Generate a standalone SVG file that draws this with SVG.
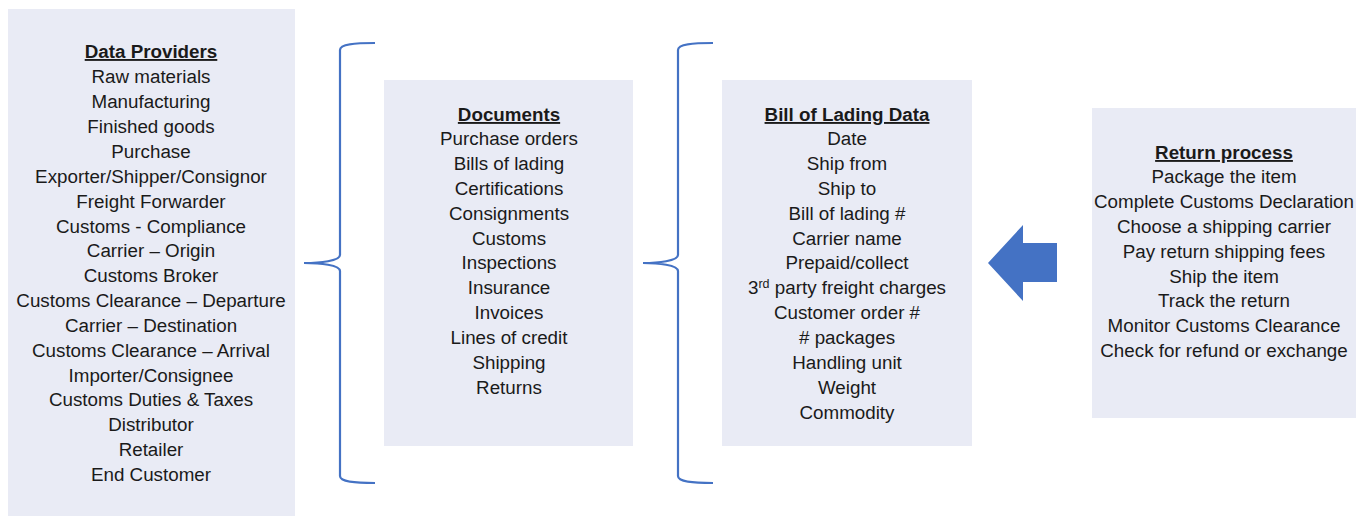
<svg xmlns="http://www.w3.org/2000/svg" width="1368" height="516" viewBox="0 0 1368 516">
<style>
.box{fill:#E9EBF5}
text{font-family:"Liberation Sans",Arial,sans-serif;font-size:18.8px;fill:#1a1a1a;text-anchor:middle}
.t{font-weight:bold;text-decoration:underline}
.brace{fill:none;stroke:#4472C4;stroke-width:2.2}
</style>
<rect width="1368" height="516" fill="#ffffff"/>
<g id="data-providers">
<rect class="box" x="8" y="9" width="287" height="507"/>
<text x="151" y="58" class="t">Data Providers</text>
<text x="151" y="83">Raw materials</text>
<text x="151" y="108">Manufacturing</text>
<text x="151" y="133">Finished goods</text>
<text x="151" y="158">Purchase</text>
<text x="151" y="183">Exporter/Shipper/Consignor</text>
<text x="151" y="208">Freight Forwarder</text>
<text x="151" y="233">Customs - Compliance</text>
<text x="151" y="257">Carrier – Origin</text>
<text x="151" y="282">Customs Broker</text>
<text x="151" y="307">Customs Clearance – Departure</text>
<text x="151" y="332">Carrier – Destination</text>
<text x="151" y="357">Customs Clearance – Arrival</text>
<text x="151" y="382">Importer/Consignee</text>
<text x="151" y="406">Customs Duties &amp; Taxes</text>
<text x="151" y="431">Distributor</text>
<text x="151" y="456">Retailer</text>
<text x="151" y="481">End Customer</text>
</g>
<g id="documents">
<rect class="box" x="384" y="80" width="249" height="366"/>
<text x="509" y="121" class="t">Documents</text>
<text x="509" y="145">Purchase orders</text>
<text x="509" y="170">Bills of lading</text>
<text x="509" y="195">Certifications</text>
<text x="509" y="220">Consignments</text>
<text x="509" y="245">Customs</text>
<text x="509" y="269">Inspections</text>
<text x="509" y="294">Insurance</text>
<text x="509" y="319">Invoices</text>
<text x="509" y="344">Lines of credit</text>
<text x="509" y="369">Shipping</text>
<text x="509" y="394">Returns</text>
</g>
<g id="bill-of-lading">
<rect class="box" x="722" y="80" width="250" height="366"/>
<text x="847" y="121" class="t">Bill of Lading Data</text>
<text x="847" y="145">Date</text>
<text x="847" y="170">Ship from</text>
<text x="847" y="195">Ship to</text>
<text x="847" y="220">Bill of lading #</text>
<text x="847" y="245">Carrier name</text>
<text x="847" y="269">Prepaid/collect</text>
<text x="847" y="294">3<tspan font-size="12.5" dy="-6">rd</tspan><tspan dy="6"> party freight charges</tspan></text>
<text x="847" y="319">Customer order #</text>
<text x="847" y="344"># packages</text>
<text x="847" y="369">Handling unit</text>
<text x="847" y="394">Weight</text>
<text x="847" y="419">Commodity</text>
</g>
<g id="return-process">
<rect class="box" x="1092" y="108" width="264" height="310"/>
<text x="1224" y="159" class="t">Return process</text>
<text x="1224" y="183">Package the item</text>
<text x="1224" y="208">Complete Customs Declaration</text>
<text x="1224" y="233">Choose a shipping carrier</text>
<text x="1224" y="258">Pay return shipping fees</text>
<text x="1224" y="283">Ship the item</text>
<text x="1224" y="307">Track the return</text>
<text x="1224" y="332">Monitor Customs Clearance</text>
<text x="1224" y="357">Check for refund or exchange</text>
</g>
<g id="connectors">
<path class="brace" d="M375,43 C355,43 340,44 340,50 L340,255 C340,261 320,263 304,263 C320,263 340,265 340,271 L340,476 C340,482 355,483 375,483"/>
<path class="brace" d="M713,43 C693,43 678,44 678,50 L678,255 C678,261 658,263 643,263 C658,263 678,265 678,271 L678,476 C678,482 693,483 713,483"/>
<polygon points="988,263 1023,225 1023,243 1057,243 1057,282 1023,282 1023,301" fill="#4472C4"/>
</g>
</svg>
